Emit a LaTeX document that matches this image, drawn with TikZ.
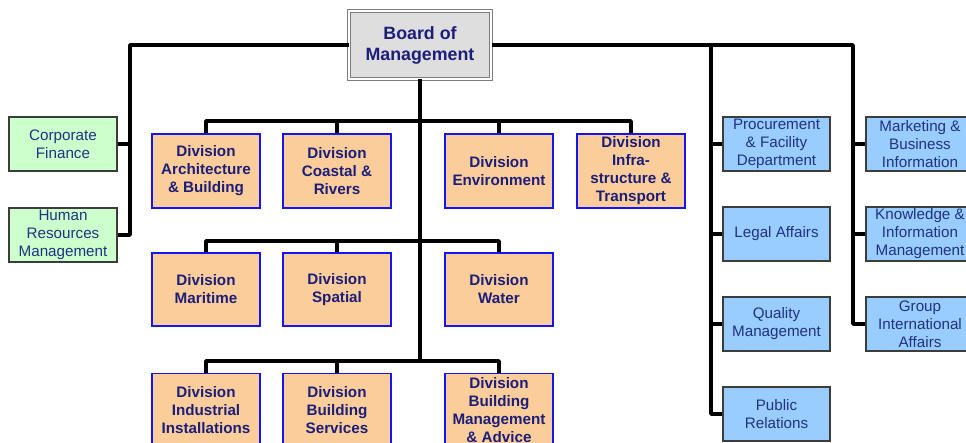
\documentclass[tikz,border=0pt]{standalone}
\usepackage{fontspec}
\setmainfont{Liberation Sans}
\definecolor{navy}{RGB}{28,30,120}
\definecolor{txtblue}{RGB}{32,50,128}
\definecolor{peach}{RGB}{250,205,155}
\definecolor{divborder}{RGB}{20,20,245}
\definecolor{lblue}{RGB}{153,204,255}
\definecolor{lgreen}{RGB}{204,255,204}
\definecolor{boxedge}{RGB}{60,60,60}
\definecolor{boardfill}{RGB}{222,222,222}
\definecolor{boardedge}{RGB}{125,125,125}
\begin{document}
\begin{tikzpicture}[x=1pt,y=-1pt,
  divbox/.style={draw=divborder, line width=1.8pt, fill=peach, minimum width=108pt, minimum height=74pt,
    align=center, text=navy, font=\bfseries\fontsize{15.2}{18}\selectfont, inner sep=0pt},
  staffbox/.style={draw=boxedge, line width=1.1pt, fill=lblue, minimum width=107pt, minimum height=54pt,
    align=center, text=txtblue, font=\fontsize{15.2}{18}\selectfont, inner sep=0pt},
  greenbox/.style={staffbox, fill=lgreen},
  boardbox/.style={draw=boardedge, line width=1pt, double=white, double distance=1.6pt, fill=boardfill,
    minimum width=142pt, minimum height=68pt, align=center, text=navy,
    font=\bfseries\fontsize{17.8}{21}\selectfont, inner sep=0pt},
  conn/.style={draw=black, line width=3.6pt, line join=round}]
\useasboundingbox (0,0) rectangle (966,443);
\fill[white] (0,0) rectangle (966,443);

\coordinate (jl) at (130,45);
\coordinate (jm) at (711,45);
\coordinate (jr) at (853,45);
\coordinate (c1) at (420,121);
\coordinate (c2) at (420,241);
\coordinate (c3) at (420,361);

% boxes
\node[boardbox] (board) at (420,45) {Board of\\Management};

\node[greenbox, minimum width=108pt] (corp) at (63,144) {Corporate\\Finance};
\node[greenbox, minimum width=108pt] (hr) at (63,235) {Human\\Resources\\Management};

\node[divbox] (arch) at (206,171) {Division\\Architecture\\\& Building};
\node[divbox] (coast) at (337,171) {Division\\Coastal \&\\Rivers};
\node[divbox] (env) at (499,171) {Division\\Environment};
\node[divbox] (infra) at (631,171) {Division\\Infra-\\structure \&\\Transport};

\node[divbox, minimum height=73pt] (mar) at (206,289.5) {Division\\Maritime};
\node[divbox, minimum height=73pt] (spat) at (337,289.5) {Division\\Spatial};
\node[divbox, minimum height=73pt] (wat) at (499,289.5) {Division\\Water};

\node[divbox] (ind) at (206,410.5) {Division\\Industrial\\Installations};
\node[divbox] (bserv) at (337,410.5) {Division\\Building\\Services};
\node[divbox] (bma) at (499,410.5) {Division\\Building\\Management\\\& Advice};

\node[staffbox] (proc) at (776.5,144) {Procurement\\\& Facility\\Department};
\node[staffbox] (legal) at (776.5,234) {Legal Affairs};
\node[staffbox] (qual) at (776.5,324) {Quality\\Management};
\node[staffbox] (pr) at (776.5,414) {Public\\Relations};

\node[staffbox, minimum width=108pt] (mkt) at (920,144) {Marketing \&\\Business\\Information};
\node[staffbox, minimum width=108pt] (know) at (920,234) {Knowledge \&\\Information\\Management};
\node[staffbox, minimum width=108pt] (grp) at (920,324) {Group\\International\\Affairs};

% connectors
\draw[conn] (board.west) -- (jl) |- (hr.east);
\draw[conn] (corp.east) -- (corp.east -| jl);
\draw[conn] (board.east) -- (jr) |- (grp.west);
\draw[conn] (jm) |- (pr.west);
\draw[conn] (proc.west) -- (proc.west -| jm);
\draw[conn] (legal.west) -- (legal.west -| jm);
\draw[conn] (qual.west) -- (qual.west -| jm);
\draw[conn] (mkt.west) -- (mkt.west -| jr);
\draw[conn] (know.west) -- (know.west -| jr);
\draw[conn] (board.south) -- (c3);
\draw[conn] (arch.north) |- (c1) -| (infra.north);
\draw[conn] (coast.north) -- (coast.north |- c1);
\draw[conn] (env.north) -- (env.north |- c1);
\draw[conn] (mar.north) |- (c2) -| (wat.north);
\draw[conn] (spat.north) -- (spat.north |- c2);
\draw[conn] (ind.north) |- (c3) -| (bma.north);
\draw[conn] (bserv.north) -- (bserv.north |- c3);
\end{tikzpicture}
\end{document}
